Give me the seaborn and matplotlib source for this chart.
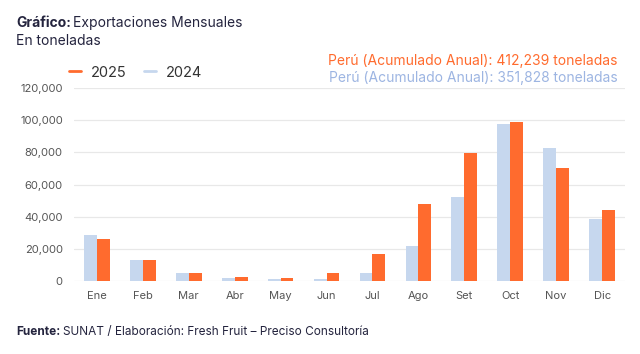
import numpy as np
import pandas as pd
import matplotlib
matplotlib.use("Agg")
import matplotlib.pyplot as plt
from matplotlib.lines import Line2D
from matplotlib.ticker import FuncFormatter
import seaborn as sns

meses = ['Ene', 'Feb', 'Mar', 'Abr', 'May', 'Jun', 'Jul', 'Ago', 'Set', 'Oct', 'Nov', 'Dic']
t2024 = [28900, 13300, 5000, 1800, 1000, 1200, 5000, 21700, 52000, 97700, 82400, 38300]
t2025 = [25900, 13300, 5000, 2400, 2000, 5000, 16600, 47600, 79700, 98600, 70000, 43900]
total_2025 = '412,239'
total_2024 = '351,828'

c25 = '#FF6B2E'
c24 = '#C6D7EE'
c24_txt = '#9DB5E2'
navy = '#24243E'
grey = '#555555'

df = pd.DataFrame({
    'mes': meses * 2,
    'anio': ['2024'] * 12 + ['2025'] * 12,
    'ton': t2024 + t2025,
})

sns.set_style('white')
plt.rcParams['font.family'] = ['Inter', 'DejaVu Sans']

fig = plt.figure(figsize=(6.4, 3.54), dpi=100)
ax = fig.add_axes([0.1156, 0.2062, 0.861, 0.5452])

sns.barplot(data=df, x='mes', y='ton', hue='anio', hue_order=['2024', '2025'],
            palette={'2024': c24, '2025': c25}, width=0.56, gap=0, linewidth=0,
            saturation=1, ax=ax, legend=False)

ax.set_ylim(0, 120000)
ax.set_yticks(np.arange(0, 120001, 20000))
ax.yaxis.set_major_formatter(FuncFormatter(lambda v, p: f'{int(v):,}'))
ax.set_xlim(-0.5, 11.5)
ax.grid(axis='y', color='#E8E8E8', linewidth=0.9)
ax.set_axisbelow(True)
for s in ax.spines.values():
    s.set_visible(False)
ax.set_xlabel('')
ax.set_ylabel('')
ax.tick_params(axis='both', length=0, labelsize=8, labelcolor=grey)
ax.tick_params(axis='x', pad=7)
ax.tick_params(axis='y', pad=8)

# legend
handles = [Line2D([0], [0], color=c25, lw=2), Line2D([0], [0], color=c24, lw=2)]
fig.legend(handles, ['2025', '2024'], loc='center left', bbox_to_anchor=(0.088, 0.795),
           ncol=2, frameon=False, fontsize=10.5, handlelength=0.8, handletextpad=0.7,
           columnspacing=1.2, labelcolor='#333333')

# title
r = fig.canvas.get_renderer()
t = fig.text(0.025, 0.935, 'Gráfico:', fontsize=10, fontweight='bold', color=navy, va='center')
bb = t.get_window_extent(r)
fig.text(bb.x1 / 640 + 0.004, 0.935, 'Exportaciones Mensuales', fontsize=10, color=navy, va='center')
fig.text(0.025, 0.885, 'En toneladas', fontsize=10, color=navy, va='center')

# totals
fig.text(0.965, 0.828, f'Perú (Acumulado Anual): {total_2025} toneladas', fontsize=10,
         color=c25, ha='right', va='center')
fig.text(0.965, 0.781, f'Perú (Acumulado Anual): {total_2024} toneladas', fontsize=10,
         color=c24_txt, ha='right', va='center')

# footer
f = fig.text(0.025, 0.062, 'Fuente:', fontsize=8.5, fontweight='bold', color=navy, va='center')
bb = f.get_window_extent(r)
fig.text(bb.x1 / 640 + 0.004, 0.062, 'SUNAT / Elaboración: Fresh Fruit – Preciso Consultoría',
         fontsize=8.5, color=navy, va='center')

fig.savefig('out.png', dpi=100)
